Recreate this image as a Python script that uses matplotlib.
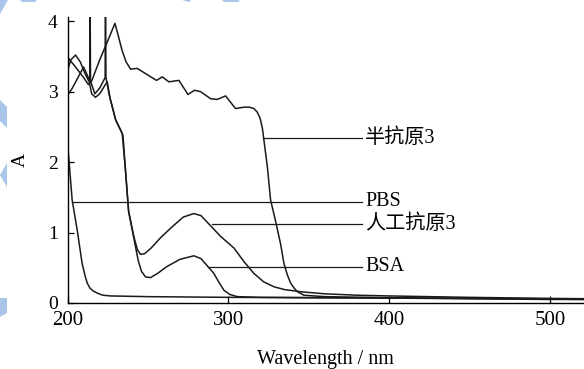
import matplotlib
matplotlib.use('Agg')
import matplotlib.pyplot as plt
from matplotlib.patches import Polygon

plt.rcParams['font.family'] = ['Liberation Serif', 'Noto Sans CJK SC', 'DejaVu Sans']

# UV-Vis spectra (wavelength nm, absorbance A)
hapten_wl = [200, 205, 210, 213, 215, 220, 225, 229.5, 231.5, 234, 236.5, 239.2, 243.4,
             249, 255.4, 258.9, 263, 269.3, 274.9, 279, 282.8, 289, 293.1, 298.3, 304.5,
             309.7, 313, 315.9, 318, 319.8, 321.2, 322.5, 324.3, 326.3, 329, 332.5,
             334.6, 336.7, 338.8, 341, 343, 347, 360, 400, 450, 500, 525]
hapten_a = [3.49, 3.35, 3.2, 3.1, 3.15, 3.45, 3.72, 3.97, 3.8, 3.58, 3.42, 3.32, 3.33,
            3.25, 3.16, 3.21, 3.14, 3.16, 2.96, 3.02, 3.00, 2.90, 2.89, 2.94, 2.76,
            2.78, 2.78, 2.76, 2.71, 2.62, 2.48, 2.25, 1.93, 1.46, 1.2, 0.84,
            0.56, 0.40, 0.28, 0.21, 0.16, 0.11, 0.09, 0.075, 0.065, 0.055, 0.05]

pbs_wl = [200, 201, 202.9, 206, 209.1, 211, 212.3, 214, 216, 218.5, 222, 226.8, 250,
          300, 400, 500, 525]
pbs_a = [2.26, 2.0, 1.46, 1.04, 0.56, 0.38, 0.28, 0.21, 0.17, 0.14, 0.11, 0.10, 0.09,
         0.08, 0.07, 0.06, 0.06]

antigen_wl = [200, 202, 205, 208, 211, 213.5, 215, 217.4, 220, 223, 224.7, 226.5, 229.9,
              234, 236, 238, 241.3, 243.4, 245.4, 248, 252, 258, 265, 272, 278.6, 283,
              288, 295, 303.5, 310, 315.9, 322, 328.4, 335, 345, 360, 380, 400, 450,
              500, 525]
antigen_a = [3.3, 3.45, 3.52, 3.42, 3.25, 3.14, 2.97, 2.92, 2.97, 3.08, 3.14, 2.9, 2.6,
             2.41, 1.9, 1.3, 0.94, 0.76, 0.69, 0.70, 0.78, 0.93, 1.08, 1.22, 1.27, 1.24,
             1.12, 0.95, 0.78, 0.58, 0.42, 0.30, 0.23, 0.19, 0.16, 0.13, 0.11, 0.10, 0.08,
             0.065, 0.06]

bsa_wl = [200, 203, 206.5, 210, 212, 213.8, 214.0, 214.3, 217, 220, 223.4, 223.6, 223.9,
          226, 230, 234.5, 236, 238, 241, 244, 246, 248.5, 251.6, 256, 262, 270, 278.6,
          283, 288, 291, 294, 297.3, 301, 305.6, 320, 400, 500, 525]
bsa_a = [2.95, 3.05, 3.2, 3.35, 3.25, 3.15, 4.6, 3.15, 2.97, 3.05, 3.2, 4.6, 3.2,
         2.95, 2.6, 2.38, 1.9, 1.3, 0.95, 0.6, 0.45, 0.37, 0.36, 0.42, 0.52, 0.62, 0.67,
         0.63, 0.5, 0.42, 0.3, 0.18, 0.12, 0.09, 0.08, 0.07, 0.05, 0.05]

labels = ['半抗原3', 'PBS', '人工抗原3', 'BSA']
label_start = [321.3, 202.8, 289.7, 287.6]   # where each leader line leaves its curve
label_y = [2.34, 1.44, 1.12, 0.515]

fig = plt.figure(figsize=(5.84, 3.69), dpi=100)
ax = fig.add_axes([0.1156, 0.1789, 0.8844, 0.775])

lw = 1.1
for wl, a in [(hapten_wl, hapten_a), (pbs_wl, pbs_a), (antigen_wl, antigen_a), (bsa_wl, bsa_a)]:
    ax.plot(wl, a, color='#1a1a1a', lw=lw)

for name, x0, y in zip(labels, label_start, label_y):
    ax.plot([x0, 383], [y, y], color='#1a1a1a', lw=0.9)
    ax.text(385, y, name, fontsize=14.5, va='center', ha='left')

ax.set_xlim(200, 521.2)
ax.set_ylim(0, 4.06)
ax.set_xticks([200, 300, 400, 500])
ax.set_yticks([0, 1, 2, 3, 4])
ax.tick_params(direction='in', width=0.9)
ax.tick_params(axis='y', length=4.3, pad=7, labelsize=14)
ax.tick_params(axis='x', length=5, pad=6, labelsize=15)
for s in ['top', 'right']:
    ax.spines[s].set_visible(False)
for s in ['left', 'bottom']:
    ax.spines[s].set_linewidth(1.0)
ax.set_ylabel('A', fontsize=14, labelpad=14)
ax.set_xlabel('Wavelength / nm', fontsize=14.5, labelpad=14)

# light blue slide decoration along the edges
blue = '#a9c6ea'
shapes = [
    [(0, 369), (8, 369), (0, 355)],
    [(20, 369), (37, 369), (35, 367), (22, 367)],
    [(182, 369), (191, 369), (189, 367)],
    [(222, 369), (240, 369), (238, 367), (224, 367)],
    [(0, 269), (7, 262), (7, 241), (0, 248)],
    [(0, 194), (7, 206), (7, 182)],
    [(0, 71), (7, 71), (7, 56), (0, 52)],
]
for pts in shapes:
    fig.patches.append(Polygon([(x / 584, y / 369) for x, y in pts], closed=True,
                               transform=fig.transFigure, facecolor=blue,
                               edgecolor='none', zorder=-1))

fig.savefig('out.png', dpi=100)
